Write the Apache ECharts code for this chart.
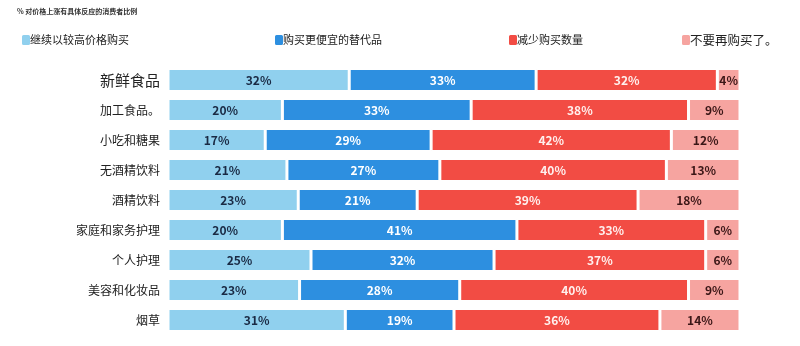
<!DOCTYPE html>
<html><head><meta charset="utf-8">
<script src="https://cdn.jsdelivr.net/npm/echarts@6/dist/echarts.min.js"></script>
<style>html,body{margin:0;padding:0;background:#fff}#c{width:800px;height:346px}</style>
</head><body><div id="c"></div>
<script>
const categories = ['新鲜食品','加工食品。','小吃和糖果','无酒精饮料','酒精饮料','家庭和家务护理','个人护理','美容和化妆品','烟草'];
const seriesNames = ['继续以较高价格购买','购买更便宜的替代品','减少购买数量','不要再购买了。'];
const keepBuying = [32,20,17,21,23,20,25,23,31];
const cheaper    = [33,33,29,27,21,41,32,28,19];
const buyLess    = [32,38,42,40,39,33,37,40,36];
const stopBuying = [4,9,12,13,18,6,6,9,14];
const title = '% 对价格上涨有具体反应的消费者比例';

const raw = [keepBuying, cheaper, buyLess, stopBuying];
const colors = ['#90d0ee','#2d8fe0','#f24c44','#f6a4a0'];
const labelColors = ['#1a2a44','#ffffff','#fff0ee','#3a1616'];
const totals = categories.map((_, i) => raw.reduce((s, a) => s + a[i], 0));

const series = raw.map((arr, k) => ({
  name: seriesNames[k],
  type: 'bar',
  stack: 'total',
  barWidth: 23,
  data: arr.map((v, i) => ({ value: v / totals[i] * 100, raw: v })),
  itemStyle: { color: colors[k], borderColor: '#fff', borderWidth: 1.5 },
  label: {
    show: true, position: 'inside',
    formatter: p => p.data.raw + '%',
    color: labelColors[k], fontWeight: 'bold', fontSize: 12,
    fontFamily: 'Noto Sans CJK SC'
  }
}));

const legendPos = [20, 273, 507, 680];
const legends = seriesNames.map((n, k) => ({
  data: [n], left: legendPos[k], top: 33, padding: 0,
  itemWidth: 10, itemHeight: 12, itemGap: 0,
  icon: 'roundRect',
  textStyle: { fontSize: k === 3 ? 12.5 : 11, color: '#222', fontFamily: 'Noto Sans CJK SC', padding: [0,0,0,-6] },
  selectedMode: false
}));

const chart = echarts.init(document.getElementById('c'));
chart.setOption({
  animation: false,
  title: { text: title, left: 12, top: 3, textStyle: { fontSize: 7, fontWeight: 'bold', color: '#333', fontFamily: 'Noto Sans CJK SC' } },
  legend: legends,
  grid: { left: 168, right: 60, top: 65, bottom: 11 },
  xAxis: { type: 'value', min: 0, max: 100, show: false },
  yAxis: {
    type: 'category', data: categories, inverse: true,
    axisLine: { show: false }, axisTick: { show: false },
    axisLabel: {
      margin: 8, color: '#222', fontSize: 12, fontFamily: 'Noto Sans CJK SC',
      formatter: (v, i) => i === 0 ? '{big|' + v + '}' : v,
      rich: { big: { fontSize: 15, color: '#222', fontFamily: 'Noto Sans CJK SC' } }
    }
  },
  series
});
</script></body></html>
